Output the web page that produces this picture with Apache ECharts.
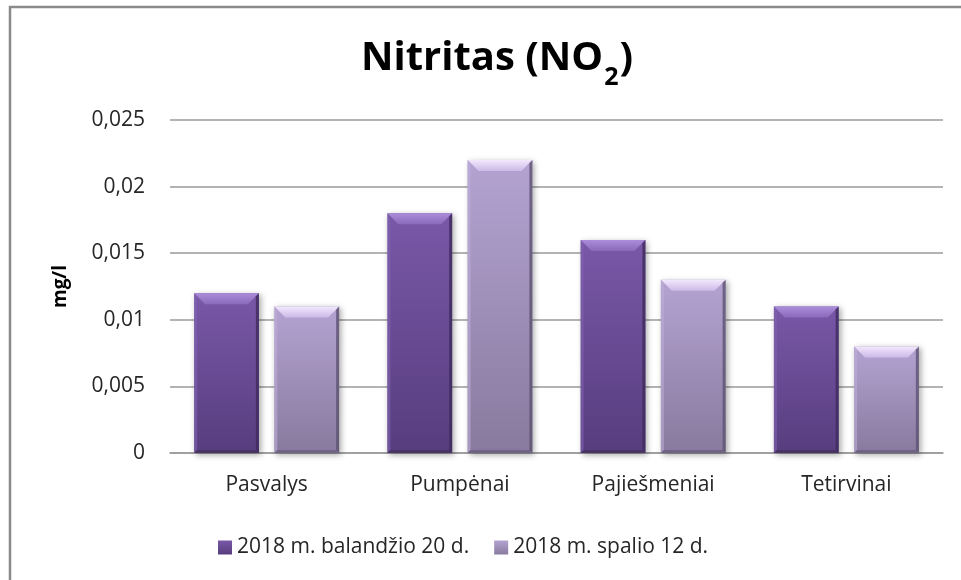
<!DOCTYPE html>
<html>
<head>
<meta charset="utf-8">
<script src="https://cdn.jsdelivr.net/npm/echarts@6/dist/echarts.min.js"></script>
<style>
  html, body { margin: 0; padding: 0; background: #fff; }
  #chart { width: 961px; height: 580px; }
</style>
</head>
<body>
<div id="chart"></div>
<script>
// Nitrite concentrations at four sampling sites, two sampling dates
const categories = ['Pasvalys', 'Pumpėnai', 'Pajiešmeniai', 'Tetirvinai'];
const seriesNames = ['2018 m. balandžio 20 d.', '2018 m. spalio 12 d.'];
const aprilValues = [0.012, 0.018, 0.016, 0.011];
const octoberValues = [0.011, 0.022, 0.013, 0.008];
const yTicks = [0, 0.005, 0.01, 0.015, 0.02, 0.025];

const FONT = '"Open Sans", Lato, sans-serif';

// Colour sets for the bevelled bars: body gradient, top bevel, edges
const palettes = [
  { top: '#7958a8', bottom: '#573d7e', bevelTop: '#ab8ddb', bevelBottom: '#8a6abb',
    left: '#8062b0', right: '#3e2b5c', foot: '#46315f' },
  { top: '#b4a3d2', bottom: '#887a9e', bevelTop: '#f2e8fc', bevelBottom: '#cdb9e8',
    left: '#bcaed6', right: '#5e5272', foot: '#6a5e7c' }
];

function grad(c1, c2) {
  return new echarts.graphic.LinearGradient(0, 0, 0, 1, [
    { offset: 0, color: c1 }, { offset: 1, color: c2 }
  ]);
}

function makeRender(seriesIdx) {
  const pal = palettes[seriesIdx];
  return function (params, api) {
    const catIdx = api.value(0);
    const val = api.value(1);
    const band = api.size([1, 0])[0];
    const w = band * 0.335;
    const gap = band * 0.08;
    const center = api.coord([catIdx, 0]);
    const base = center[1];
    const topY = api.coord([catIdx, val])[1];
    const left = center[0] - (2 * w + gap) / 2 + seriesIdx * (w + gap);
    const right = left + w;
    const h = base - topY;
    const b = Math.min(11, h / 3);   // top bevel depth
    const s = 3;                     // side bevel width
    return {
      type: 'group',
      children: [
        {
          type: 'rect',
          shape: { x: left, y: topY, width: w, height: h },
          style: { fill: grad(pal.top, pal.bottom), shadowBlur: 6, shadowOffsetX: 2, shadowOffsetY: 2, shadowColor: 'rgba(0,0,0,0.35)' }
        },
        {
          type: 'polygon',
          shape: { points: [[left, topY], [right, topY], [right - b, topY + b], [left + b, topY + b]] },
          style: { fill: grad(pal.bevelTop, pal.bevelBottom) }
        },
        {
          type: 'polygon',
          shape: { points: [[left, topY], [left + s, topY + s], [left + s, base - s], [left, base]] },
          style: { fill: pal.left, opacity: 0.6 }
        },
        {
          type: 'polygon',
          shape: { points: [[right, topY], [right - s, topY + s], [right - s, base - s], [right, base]] },
          style: { fill: pal.right, opacity: 0.8 }
        },
        {
          type: 'polygon',
          shape: { points: [[left, base], [right, base], [right - s, base - s], [left + s, base - s]] },
          style: { fill: pal.foot, opacity: 0.8 }
        }
      ]
    };
  };
}

function toData(values) {
  return values.map((v, i) => [i, v]);
}

const chart = echarts.init(document.getElementById('chart'), null, { renderer: 'canvas' });

chart.setOption({
  animation: false,
  backgroundColor: '#fff',
  title: {
    text: '{a|Nitritas (NO}{s|2}{a|)}',
    left: 356,
    top: 34,
    textStyle: {
      rich: {
        a: { fontFamily: FONT, fontWeight: 'bold', fontSize: 40, lineHeight: 50, verticalAlign: 'top', color: '#000' },
        s: { fontFamily: FONT, fontWeight: 'bold', fontSize: 25, lineHeight: 26, verticalAlign: 'top', color: '#000', padding: [26, 1, 0, 1] }
      }
    }
  },
  graphic: [
    {
      type: 'rect',
      shape: { x: 10, y: 7, width: 980, height: 600 },
      style: { fill: 'none', stroke: '#8a8a8a', lineWidth: 2.5 },
      silent: true
    }
  ],
  legend: {
    left: 213,
    top: 532,
    itemWidth: 14,
    itemHeight: 14,
    itemGap: 25,
    icon: 'rect',
    textStyle: { fontFamily: FONT, fontSize: 21, color: '#262626' },
    data: seriesNames
  },
  grid: { left: 170, right: 18, top: 120, bottom: 127 },
  xAxis: {
    type: 'category',
    data: categories,
    axisTick: { show: false },
    axisLine: { lineStyle: { color: '#9a9a9a', width: 1.5 } },
    axisLabel: { margin: 22, fontFamily: FONT, fontSize: 21, color: '#262626' }
  },
  yAxis: {
    type: 'value',
    min: yTicks[0],
    max: yTicks[yTicks.length - 1],
    interval: yTicks[1] - yTicks[0],
    name: 'mg/l',
    nameLocation: 'middle',
    nameGap: 100,
    nameTextStyle: { fontFamily: FONT, fontWeight: 'bold', fontSize: 19, color: '#000' },
    axisLine: { show: false },
    axisTick: { show: false },
    axisLabel: {
      margin: 25,
      fontFamily: FONT, fontSize: 21, color: '#262626',
      formatter: v => String(+v.toFixed(3)).replace('.', ',')
    },
    splitLine: { lineStyle: { color: '#9a9a9a', width: 1.5 } }
  },
  series: [
    {
      name: seriesNames[0],
      type: 'custom',
      renderItem: makeRender(0),
      itemStyle: { color: grad(palettes[0].top, palettes[0].bottom) },
      encode: { x: 0, y: 1 },
      data: toData(aprilValues)
    },
    {
      name: seriesNames[1],
      type: 'custom',
      renderItem: makeRender(1),
      itemStyle: { color: grad(palettes[1].top, palettes[1].bottom) },
      encode: { x: 0, y: 1 },
      data: toData(octoberValues)
    }
  ]
});
</script>
</body>
</html>
